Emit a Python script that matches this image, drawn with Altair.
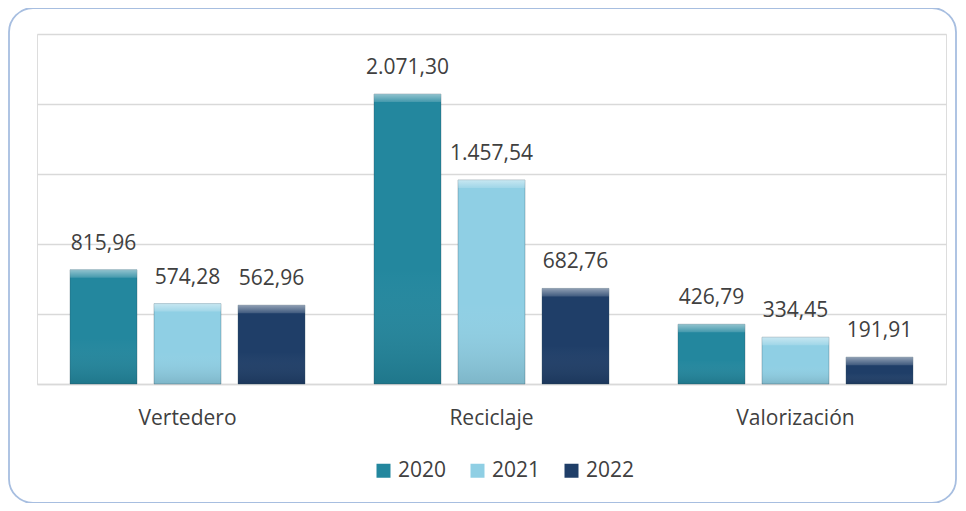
import altair as alt
import pandas as pd

categories = ["Vertedero", "Reciclaje", "Valorización"]
years = ["2020", "2021", "2022"]
v2020 = [815.96, 2071.30, 426.79]
v2021 = [574.28, 1457.54, 334.45]
v2022 = [562.96, 682.76, 191.91]
colors = ["#23879E", "#8FCFE4", "#1F3E68"]
grid_values = [0, 500, 1000, 1500, 2000, 2500]


def es(v):
    s = f"{v:,.2f}"
    return s.replace(",", "X").replace(".", ",").replace("X", ".")


rows = []
for yr, vals in zip(years, [v2020, v2021, v2022]):
    for c, v in zip(categories, vals):
        rows.append({"cat": c, "year": yr, "value": v, "label": es(v)})
df = pd.DataFrame(rows)

FONT = "Open Sans"
FS = 21
W, H = 909, 350

x_enc = alt.X("cat:N", sort=categories, title=None,
              scale=alt.Scale(paddingInner=0.171, paddingOuter=0.0806),
              axis=alt.Axis(labelFontSize=FS, labelColor="#404040", labelFont=FONT,
                            ticks=False, domain=True, domainColor="#D9D9D9", domainWidth=1.5,
                            labelPadding=23, labelAngle=0, grid=False))
xo_enc = alt.XOffset("year:N", sort=years,
                     scale=alt.Scale(paddingInner=0.2024, paddingOuter=0.1012))
y_enc = alt.Y("value:Q", title=None,
              scale=alt.Scale(domain=[0, 2500], nice=False),
              axis=alt.Axis(values=grid_values, labels=False, ticks=False, domain=False,
                            grid=True, gridColor="#D9D9D9", gridWidth=1.5))

border = alt.Chart(pd.DataFrame({"a": [0]})).mark_rect(
    cornerRadius=24, fill="transparent", stroke="#A7BEE0", strokeWidth=1.8
).encode(x=alt.value(-28), x2=alt.value(919), y=alt.value(-26), y2=alt.value(469))

base = alt.Chart(df)

bars = base.mark_bar(stroke="#2B4A5A", strokeOpacity=0.3, strokeWidth=1).encode(
    x=x_enc, xOffset=xo_enc, y=y_enc,
    color=alt.Color("year:N", sort=years, title=None,
                    scale=alt.Scale(domain=years, range=colors),
                    legend=alt.Legend(orient="none", legendX=336, legendY=426,
                                      direction="horizontal", symbolType="square",
                                      symbolSize=196, symbolStrokeWidth=0,
                                      labelFontSize=FS, labelFont=FONT,
                                      labelColor="#404040", columnPadding=20,
                                      labelOffset=4)),
)

shade = base.mark_bar(
    color=alt.Gradient(
        gradient="linear", x1=0, y1=0, x2=0, y2=1,
        stops=[
            alt.GradientStop(color="rgba(255,255,255,0)", offset=0),
            alt.GradientStop(color="rgba(255,255,255,0)", offset=0.6),
            alt.GradientStop(color="rgba(0,0,0,0.12)", offset=1),
        ],
    )
).encode(x=x_enc, xOffset=xo_enc, y=y_enc)

top_strip = base.mark_bar(
    y2Offset=8,
    color=alt.Gradient(
        gradient="linear", x1=0, y1=0, x2=0, y2=1,
        stops=[
            alt.GradientStop(color="rgba(255,255,255,0.5)", offset=0),
            alt.GradientStop(color="rgba(255,255,255,0.15)", offset=1),
        ],
    )
).encode(x=x_enc, xOffset=xo_enc, y=y_enc, y2="value:Q")

text = base.mark_text(fontSize=FS, font=FONT, color="#404040", baseline="middle", dy=-26).encode(
    x=x_enc, xOffset=xo_enc, y=y_enc, text="label:N"
)

chart = alt.layer(border, bars, shade, top_strip, text).properties(
    width=W, height=H,
    autosize=alt.AutoSizeParams(type="none"),
    padding={"left": 29, "top": 26, "right": 12, "bottom": 119},
).configure_view(stroke=None).configure(background="white")

chart.save("out.html", embed_options={"renderer": "svg", "actions": False})
